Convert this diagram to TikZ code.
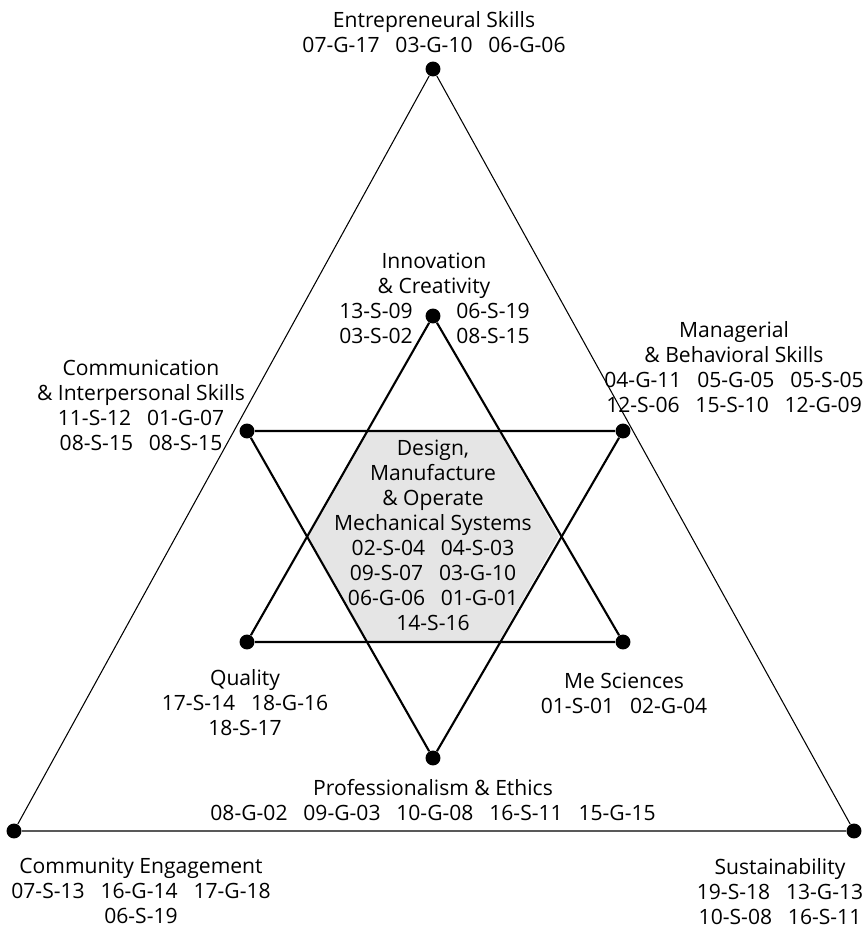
\documentclass[tikz,border=0pt]{standalone}
\usepackage{fontspec}
\setmainfont{Open Sans}
\newcommand\gp{\hspace{9pt}}
\begin{document}
\begin{tikzpicture}[x=0.02cm,y=-0.02cm,
  dot/.style={circle,fill=black,inner sep=0pt,minimum size=8.5pt},
  lbl/.style={align=center,anchor=base,inner sep=0pt,font=\fontsize{12}{14.2}\selectfont},
  outer/.style={line width=0.6pt},
  star/.style={line width=1.2pt}]
\useasboundingbox (0,0) rectangle (864,927);
% outer triangle
\node[dot] (E) at (433,69) {};
\node[dot] (C) at (14,831) {};
\node[dot] (S) at (854,831) {};
% up triangle
\node[dot] (I) at (433,316) {};
\node[dot] (Q) at (247,642) {};
\node[dot] (M) at (623,642) {};
% down triangle
\node[dot] (CI) at (247,431) {};
\node[dot] (MB) at (623,431) {};
\node[dot] (P) at (433,758) {};
% hexagon
\fill[gray!20] (367.4,431) -- (498.6,431) -- (558.8,536.5) -- (498.6,642) -- (367.4,642) -- (307.2,536.5) -- cycle;
\draw[outer] (E) -- (C) -- (S) -- (E);
\draw[star] (I) -- (Q) -- (M) -- (I);
\draw[star] (CI) -- (MB) -- (P) -- (CI);
% labels (anchor = baseline of last line)
\node[lbl] (tE) at (434,52) {Entrepreneural Skills\\07-G-17\gp 03-G-10\gp 06-G-06};
\node[lbl] (tI) at (434,293) {Innovation\\\& Creativity};
\node[lbl] (tIL) at (376,343) {13-S-09\\03-S-02};
\node[lbl] (tIR) at (493,343) {06-S-19\\08-S-15};
\node[lbl] (tCI) at (141,450) {Communication\\\& Interpersonal Skills\\11-S-12\gp 01-G-07\\08-S-15\gp 08-S-15};
\node[lbl] (tMB) at (734,412) {Managerial\\\& Behavioral Skills\\04-G-11\gp 05-G-05\gp 05-S-05\\12-S-06\gp 15-S-10\gp 12-G-09};
\node[lbl] (tD) at (433,630) {Design,\\Manufacture\\\& Operate\\Mechanical Systems\\02-S-04\gp 04-S-03\\09-S-07\gp 03-G-10\\06-G-06\gp 01-G-01\\14-S-16};
\node[lbl] (tQ) at (245,735) {Quality\\17-S-14\gp 18-G-16\\18-S-17};
\node[lbl] (tM) at (624,713) {Me Sciences\\01-S-01\gp 02-G-04};
\node[lbl] (tP) at (433,820) {Professionalism \& Ethics\\08-G-02\gp 09-G-03\gp 10-G-08\gp 16-S-11\gp 15-G-15};
\node[lbl] (tC) at (141,923) {Community Engagement\\07-S-13\gp 16-G-14\gp 17-G-18\\06-S-19};
\node[lbl] (tS) at (780,924) {Sustainability\\19-S-18\gp 13-G-13\\10-S-08\gp 16-S-11};
\end{tikzpicture}
\end{document}
